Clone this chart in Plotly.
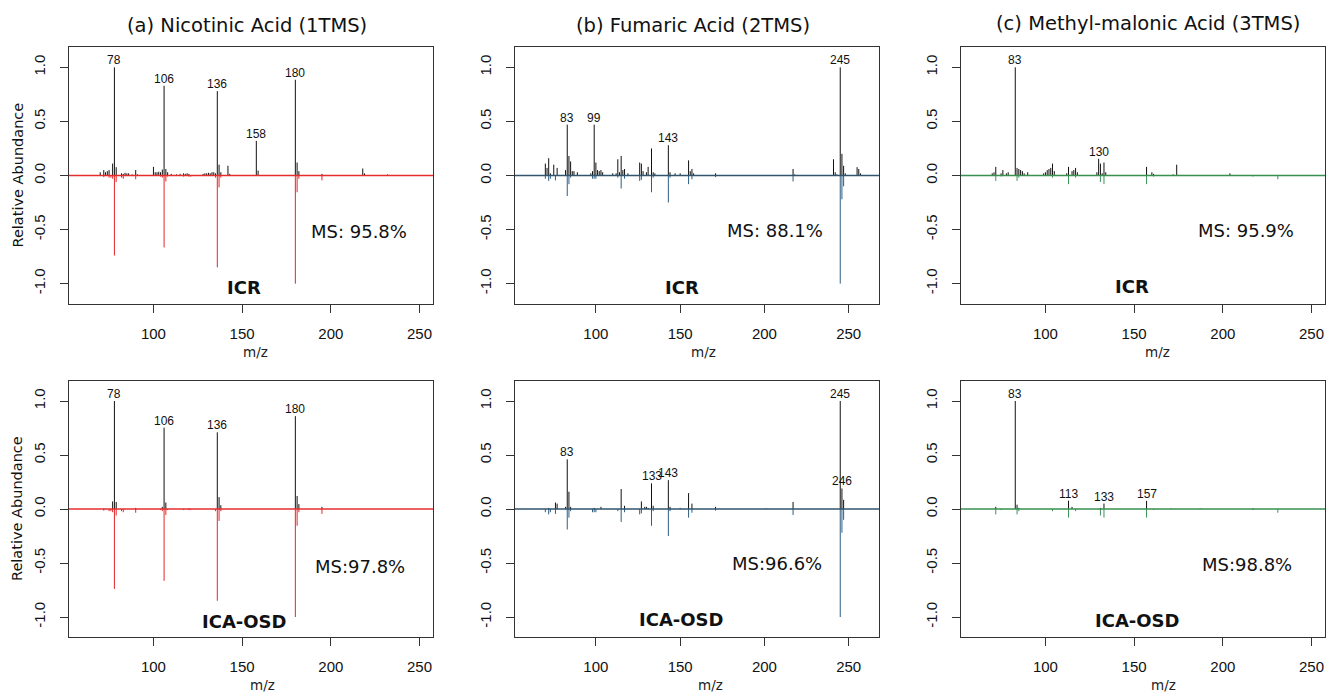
import plotly.graph_objects as go

# ---------------- data ----------------
TITLES = ["(a) Nicotinic Acid (1TMS)", "(b) Fumaric Acid (2TMS)", "(c) Methyl-malonic Acid (3TMS)"]
ROW_NAMES = ["ICR", "ICA-OSD"]
MS_TEXT = [["MS: 95.8%", "MS: 88.1%", "MS: 95.9%"],
           ["MS:97.8%", "MS:96.6%", "MS:98.8%"]]

# Panel (a) Nicotinic acid
A_ICR_MZ = [70, 72, 73, 74, 75, 77, 78, 79, 82, 83, 84, 85, 86, 88, 90, 91, 100, 101, 102, 103, 104, 105, 106, 107, 108,
            110, 113, 115, 117, 118, 119, 120, 128, 129, 130, 131, 132, 133, 134, 135, 136, 137, 138, 142, 143, 158, 159,
            180, 181, 182, 195, 218, 219, 232]
A_ICR_INT = [0.03, 0.05, 0.03, 0.04, 0.05, 0.11, 1.0, 0.077, 0.02, 0.015, 0.025, 0.02, 0.02, 0.01, 0.05, 0.01, 0.08, 0.03,
             0.03, 0.035, 0.03, 0.055, 0.83, 0.06, 0.03, 0.015, 0.01, 0.015, 0.02, 0.015, 0.02, 0.015, 0.015, 0.02, 0.02,
             0.025, 0.02, 0.03, 0.03, 0.02, 0.78, 0.10, 0.03, 0.09, 0.015, 0.32, 0.045, 0.885, 0.12, 0.04, 0.015, 0.065,
             0.02, 0.01]
A_OSD_MZ = [72, 77, 78, 79, 90, 105, 106, 107, 120, 136, 137, 138, 180, 181, 182, 195]
A_OSD_INT = [0.005, 0.07, 1.0, 0.065, 0.01, 0.02, 0.753, 0.06, 0.005, 0.71, 0.11, 0.035, 0.86, 0.12, 0.045, 0.02]
A_LIB_MZ = [72, 75, 76, 77, 78, 79, 82, 83, 90, 104, 105, 106, 107, 108, 117, 120, 121, 135, 136, 137, 138, 180, 181,
            182, 195]
A_LIB_INT = [0.015, 0.02, 0.02, 0.03, 0.74, 0.06, 0.02, 0.03, 0.035, 0.01, 0.02, 0.665, 0.055, 0.01, 0.01, 0.01, 0.01,
             0.02, 0.85, 0.11, 0.02, 1.0, 0.155, 0.03, 0.045]
A_ICR_LABELS = [78, 106, 136, 158, 180]
A_OSD_LABELS = [78, 106, 136, 180]

# Panel (b) Fumaric acid
B_ICR_MZ = [70, 71, 72, 73, 75, 77, 82, 83, 84, 85, 86, 87, 89, 97, 98, 99, 100, 101, 102, 103, 104, 110, 112, 113, 114,
            115, 116, 117, 119, 126, 127, 128, 130, 131, 133, 134, 135, 143, 144, 147, 150, 155, 156, 157, 158, 171, 217,
            218, 241, 242, 243, 245, 246, 247, 248, 255, 256, 257]
B_ICR_INT = [0.11, 0.07, 0.16, 0.02, 0.10, 0.07, 0.05, 0.47, 0.18, 0.13, 0.04, 0.04, 0.03, 0.02, 0.04, 0.47, 0.12, 0.05,
             0.04, 0.05, 0.03, 0.02, 0.02, 0.15, 0.03, 0.18, 0.05, 0.06, 0.02, 0.12, 0.11, 0.04, 0.03, 0.08, 0.25, 0.03,
             0.02, 0.28, 0.03, 0.02, 0.02, 0.14, 0.04, 0.06, 0.02, 0.02, 0.06, 0.01, 0.15, 0.03, 0.01, 1.0, 0.2, 0.09,
             0.02, 0.077, 0.06, 0.02]
B_OSD_MZ = [72, 76, 77, 82, 83, 84, 85, 99, 103, 115, 117, 127, 129, 130, 131, 133, 134, 143, 144, 150, 155, 157, 171,
            201, 217, 245, 246, 247]
B_OSD_INT = [0.01, 0.06, 0.05, 0.02, 0.46, 0.16, 0.02, 0.01, 0.02, 0.185, 0.03, 0.07, 0.02, 0.02, 0.01, 0.237, 0.03,
             0.267, 0.02, 0.01, 0.147, 0.05, 0.02, 0.005, 0.065, 1.0, 0.19, 0.085]
B_LIB_MZ = [70, 72, 73, 76, 83, 84, 85, 98, 99, 100, 113, 115, 117, 126, 127, 133, 134, 143, 144, 155, 157, 171, 217,
            245, 246, 247]
B_LIB_INT = [0.03, 0.05, 0.03, 0.045, 0.19, 0.08, 0.02, 0.03, 0.03, 0.03, 0.02, 0.12, 0.03, 0.05, 0.04, 0.155, 0.02,
             0.25, 0.02, 0.08, 0.035, 0.015, 0.055, 1.0, 0.22, 0.1]
B_ICR_LABELS = [83, 99, 143, 245]
B_OSD_LABELS = [83, 133, 143, 245, 246]

# Panel (c) Methyl-malonic acid
C_ICR_MZ = [70, 71, 72, 75, 76, 78, 79, 83, 84, 85, 86, 87, 88, 90, 99, 100, 101, 102, 103, 104, 105, 112, 113, 115,
            116, 117, 118, 129, 130, 131, 132, 133, 134, 157, 160, 161, 172, 174, 175, 204, 205, 232]
C_ICR_INT = [0.02, 0.03, 0.08, 0.02, 0.05, 0.02, 0.03, 1.0, 0.07, 0.06, 0.05, 0.04, 0.02, 0.03, 0.02, 0.03, 0.05, 0.06,
             0.07, 0.11, 0.04, 0.02, 0.08, 0.04, 0.05, 0.07, 0.03, 0.03, 0.155, 0.11, 0.02, 0.12, 0.03, 0.08, 0.03,
             0.015, 0.01, 0.10, 0.005, 0.02, 0.005, 0.005]
C_OSD_MZ = [72, 83, 84, 85, 113, 115, 131, 133, 157, 171, 188, 217]
C_OSD_INT = [0.02, 1.0, 0.04, 0.01, 0.077, 0.02, 0.01, 0.05, 0.075, 0.005, 0.005, 0.005]
C_LIB_MZ = [72, 75, 84, 85, 104, 113, 117, 131, 133, 157, 161, 187, 217, 231]
C_LIB_INT = [0.05, 0.01, 0.05, 0.02, 0.02, 0.08, 0.02, 0.06, 0.08, 0.08, 0.01, 0.005, 0.01, 0.035]
C_ICR_LABELS = [83, 130]
C_OSD_LABELS = [83, 113, 133, 157]

X_TICKS = [100, 150, 200, 250]
Y_TICKS = [-1.0, -0.5, 0.0, 0.5, 1.0]
Y_TICK_TEXT = ["-1.0", "-0.5", "0.0", "0.5", "1.0"]

LIB_COLORS = ["rgb(228,38,42)", "rgb(46,94,132)", "rgb(58,150,88)"]
BASE_COLORS = ["rgb(230,45,45)", "rgb(50,85,110)", "rgb(55,145,80)"]

# ---------------- layout geometry ----------------
W, H = 1326, 692
X_DOM_PX = [(69, 433), (515, 879), (961, 1325)]
Y_DOM_PX = [(47, 304), (380.7, 637.3)]
X_RANGES = [(52.4, 257.6), (52.0, 268.0), (52.4, 257.6)]
Y_RANGE = (-1.188, 1.188)

panels = [
    [(A_ICR_MZ, A_ICR_INT, A_ICR_LABELS), (B_ICR_MZ, B_ICR_INT, B_ICR_LABELS), (C_ICR_MZ, C_ICR_INT, C_ICR_LABELS)],
    [(A_OSD_MZ, A_OSD_INT, A_OSD_LABELS), (B_OSD_MZ, B_OSD_INT, B_OSD_LABELS), (C_OSD_MZ, C_OSD_INT, C_OSD_LABELS)],
]
libs = [(A_LIB_MZ, A_LIB_INT), (B_LIB_MZ, B_LIB_INT), (C_LIB_MZ, C_LIB_INT)]


def sticks(mz, inten, sign):
    xs, ys = [], []
    for m, v in zip(mz, inten):
        xs += [m, m, None]
        ys += [0, sign * v, None]
    return xs, ys


fig = go.Figure()
annotations = []
layout_axes = {}

TEXT_FONT = "DejaVu Sans, Verdana, sans-serif"
NUM_FONT = "Liberation Sans, Arial, sans-serif"

# label positions (pixel) measured from reference
MZ_LABEL_X = [[255, 703, 1157], [262, 710, 1163]]
MZ_LABEL_Y = [352, 685]
MS_POS = [[(359, 231), (775, 230), (1246, 230)], [(360, 566), (777, 563), (1247, 564)]]
NAME_POS = [[(244, 287), (682, 287), (1132, 286)], [(244, 621), (682, 619), (1137, 620)]]
TITLE_POS = [(247, 25), (693, 25), (1148, 24)]


def px(x):
    return x / W


def py(y):
    return 1 - y / H


for r in range(2):
    for c in range(3):
        k = r * 3 + c + 1
        xa = "x" if k == 1 else f"x{k}"
        ya = "y" if k == 1 else f"y{k}"
        mz, inten, labels = panels[r][c]
        lmz, lint = libs[c]

        x1, y1 = sticks(mz, inten, 1)
        fig.add_trace(go.Scatter(x=x1, y=y1, mode="lines", line=dict(color="#111111", width=1, simplify=False),
                                 connectgaps=False, xaxis=xa, yaxis=ya, hoverinfo="skip", showlegend=False))
        x2, y2 = sticks(lmz, lint, -1)
        fig.add_trace(go.Scatter(x=x2, y=y2, mode="lines", line=dict(color=LIB_COLORS[c], width=1, simplify=False),
                                 connectgaps=False, xaxis=xa, yaxis=ya, hoverinfo="skip", showlegend=False))
        # zero baseline across the full panel width
        fig.add_trace(go.Scatter(x=list(X_RANGES[c]), y=[0, 0], mode="lines",
                                 line=dict(color=BASE_COLORS[c], width=1.5),
                                 xaxis=xa, yaxis=ya, hoverinfo="skip", showlegend=False))

        lookup = dict(zip(mz, inten))
        for lab in labels:
            annotations.append(dict(x=lab, y=lookup[lab], xref=xa, yref=ya, text=str(lab), showarrow=False,
                                    xanchor="center", yanchor="bottom", yshift=-2,
                                    font=dict(family=NUM_FONT, size=12, color="#111")))

        xd = X_DOM_PX[c]
        yd = Y_DOM_PX[r]
        axis_common = dict(showline=True, mirror=True, linecolor="#333", linewidth=1, ticks="outside",
                           ticklen=8, tickcolor="#333", showgrid=False, zeroline=False,
                           tickfont=dict(family=NUM_FONT, size=15, color="#111"))
        layout_axes["xaxis" if k == 1 else f"xaxis{k}"] = dict(
            domain=[px(xd[0]), px(xd[1])], range=list(X_RANGES[c]), anchor=ya,
            tickvals=X_TICKS, ticktext=[str(t) for t in X_TICKS], ticklabelstandoff=8, **axis_common)
        layout_axes["yaxis" if k == 1 else f"yaxis{k}"] = dict(
            domain=[py(yd[1]), py(yd[0])], range=list(Y_RANGE), anchor=xa,
            tickvals=Y_TICKS, ticktext=Y_TICK_TEXT, tickangle=-90, ticklabelstandoff=9, **axis_common)

        annotations.append(dict(x=px(MZ_LABEL_X[r][c]), y=py(MZ_LABEL_Y[r]), xref="paper", yref="paper",
                                text="m/z", showarrow=False, xanchor="center", yanchor="middle",
                                font=dict(family=TEXT_FONT, size=13.5, color="#222")))
        mx, my = MS_POS[r][c]
        annotations.append(dict(x=px(mx), y=py(my), xref="paper", yref="paper", text=MS_TEXT[r][c],
                                showarrow=False, xanchor="center", yanchor="middle",
                                font=dict(family=TEXT_FONT, size=18, color="#111")))
        nx, ny = NAME_POS[r][c]
        annotations.append(dict(x=px(nx), y=py(ny), xref="paper", yref="paper", text=f"<b>{ROW_NAMES[r]}</b>",
                                showarrow=False, xanchor="center", yanchor="middle",
                                font=dict(family=TEXT_FONT, size=18, color="#111")))

for c in range(3):
    tx, ty = TITLE_POS[c]
    annotations.append(dict(x=px(tx), y=py(ty), xref="paper", yref="paper", text=TITLES[c], showarrow=False,
                            xanchor="center", yanchor="middle", font=dict(family=TEXT_FONT, size=19.5, color="#111")))

for r in range(2):
    cy = (Y_DOM_PX[r][0] + Y_DOM_PX[r][1]) / 2
    annotations.append(dict(x=px(17), y=py(cy), xref="paper", yref="paper", text="Relative Abundance",
                            showarrow=False, textangle=-90, xanchor="center", yanchor="middle",
                            font=dict(family=TEXT_FONT, size=14.5, color="#111")))

fig.update_layout(width=W, height=H, margin=dict(l=0, r=0, t=0, b=0), paper_bgcolor="white",
                  plot_bgcolor="white", showlegend=False, annotations=annotations, **layout_axes)

fig.write_html("out.html", config={"displayModeBar": False},
               post_script="document.body.style.margin='0';document.body.style.overflow='hidden';")
